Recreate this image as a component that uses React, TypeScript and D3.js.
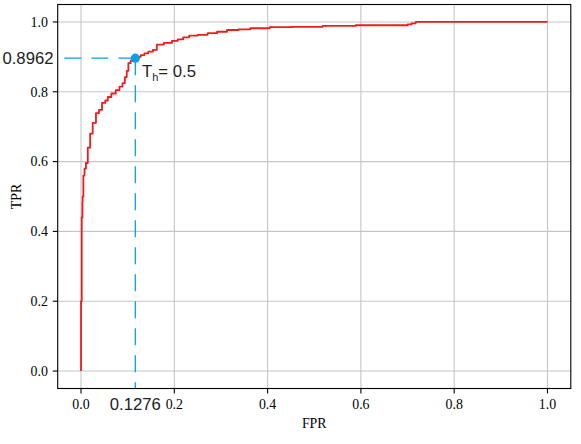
import React from "react";
import * as d3 from "d3";

const fprValues = [0, 0, 0.0015, 0.0015, 0.003, 0.003, 0.004, 0.006, 0.009, 0.012, 0.017, 0.022, 0.028, 0.036, 0.041, 0.049, 0.055, 0.06, 0.07, 0.079, 0.086, 0.092, 0.096, 0.1, 0.103, 0.11, 0.1164, 0.124, 0.132, 0.14, 0.148, 0.16, 0.165, 0.19, 0.2, 0.215, 0.223, 0.241, 0.26, 0.283, 0.3, 0.326, 0.35, 0.376, 0.433, 0.47, 0.566, 0.612, 0.695, 0.705, 0.712, 0.723, 1.0];
const tprValues = [0, 0.2, 0.2, 0.44, 0.44, 0.484, 0.5, 0.56, 0.58, 0.596, 0.64, 0.68, 0.711, 0.739, 0.748, 0.768, 0.775, 0.785, 0.795, 0.805, 0.815, 0.825, 0.842, 0.86, 0.882, 0.889, 0.896, 0.9, 0.905, 0.91, 0.915, 0.92, 0.935, 0.94, 0.946, 0.95, 0.956, 0.961, 0.963, 0.968, 0.972, 0.977, 0.979, 0.982, 0.985, 0.986, 0.9885, 0.9905, 0.9905, 0.993, 0.996, 1.0, 1.0];

const xTicks = [0, 0.2, 0.4, 0.6, 0.8, 1.0];
const yTicks = [0, 0.2, 0.4, 0.6, 0.8, 1.0];
const tickLabels = ["0.0", "0.2", "0.4", "0.6", "0.8", "1.0"];

const thresholdFpr = 0.1164;
const thresholdTpr = 0.8962;
const tprLabel = "0.8962";
const fprLabel = "0.1276";
const thresholdValue = "0.5";

const W = 581;
const H = 444;
const L = 57.7, R = 570.8, T = 4.5, B = 388.5;

export default function App() {
  const x = d3.scaleLinear().domain([-0.05, 1.05]).range([L, R]);
  const y = d3.scaleLinear().domain([-0.05, 1.05]).range([B, T]);
  const pts: [number, number][] = fprValues.map((f, i) => [f, tprValues[i]]);
  const line = d3.line<[number, number]>().x(d => x(d[0])).y(d => y(d[1])).curve(d3.curveStep);
  const serif = "'Liberation Serif', 'Times New Roman', serif";
  const sans = "'Liberation Sans', Arial, sans-serif";
  const blue = "#0ba0e3";
  const px = x(thresholdFpr), py = y(thresholdTpr);
  return (
    <svg width={W} height={H} style={{ position: "absolute", left: 0, top: 0, background: "#fff" }}>
      <rect x={0} y={0} width={W} height={H} fill="#fff" />
      {xTicks.map(t => (
        <line key={"gx" + t} x1={x(t)} x2={x(t)} y1={T} y2={B} stroke="#c6c6c6" strokeWidth={1.1} />
      ))}
      {yTicks.map(t => (
        <line key={"gy" + t} x1={L} x2={R} y1={y(t)} y2={y(t)} stroke="#c6c6c6" strokeWidth={1.1} />
      ))}
      <path d={line(pts) || ""} fill="none" stroke="#ee1d1d" strokeWidth={1.8} strokeLinejoin="round" />
      <line x1={px} y1={py} x2={L} y2={py} stroke={blue} strokeWidth={1.3} strokeDasharray="17 10" />
      <line x1={px} y1={py} x2={px} y2={B} stroke={blue} strokeWidth={1.3} strokeDasharray="17 10" />
      <circle cx={px} cy={py} r={4.6} fill={blue} />
      <rect x={L} y={T} width={R - L} height={B - T} fill="none" stroke="#000" strokeWidth={1.1} />
      {xTicks.map((t, i) => (
        <g key={"xt" + t}>
          <line x1={x(t)} x2={x(t)} y1={B} y2={B + 4.9} stroke="#000" strokeWidth={1.1} />
          <text x={x(t)} y={409} textAnchor="middle" fontFamily={serif} fontSize={13.9} fill="#000">{tickLabels[i]}</text>
        </g>
      ))}
      {yTicks.map((t, i) => (
        <g key={"yt" + t}>
          <line x1={L - 4.9} x2={L} y1={y(t)} y2={y(t)} stroke="#000" strokeWidth={1.1} />
          <text x={47.9} y={y(t) + 4.8} textAnchor="end" fontFamily={serif} fontSize={13.9} fill="#000">{tickLabels[i]}</text>
        </g>
      ))}
      <text x={(L + R) / 2} y={428} textAnchor="middle" fontFamily={serif} fontSize={13.9} fill="#000">FPR</text>
      <text transform={`translate(20.5,${(T + B) / 2}) rotate(-90)`} textAnchor="middle" fontFamily={serif} fontSize={13.9} fill="#000">TPR</text>
      <text x={53.5} y={py + 6} textAnchor="end" fontFamily={sans} fontSize={16.7} fill="#222">{tprLabel}</text>
      <text x={px} y={410} textAnchor="middle" fontFamily={sans} fontSize={16.7} fill="#222">{fprLabel}</text>
      <text x={142} y={77.3} fontFamily={sans} fontSize={16.7} fill="#222">
        T<tspan fontSize={11} dy={4}>h</tspan><tspan dy={-4}>= {thresholdValue}</tspan>
      </text>
    </svg>
  );
}
